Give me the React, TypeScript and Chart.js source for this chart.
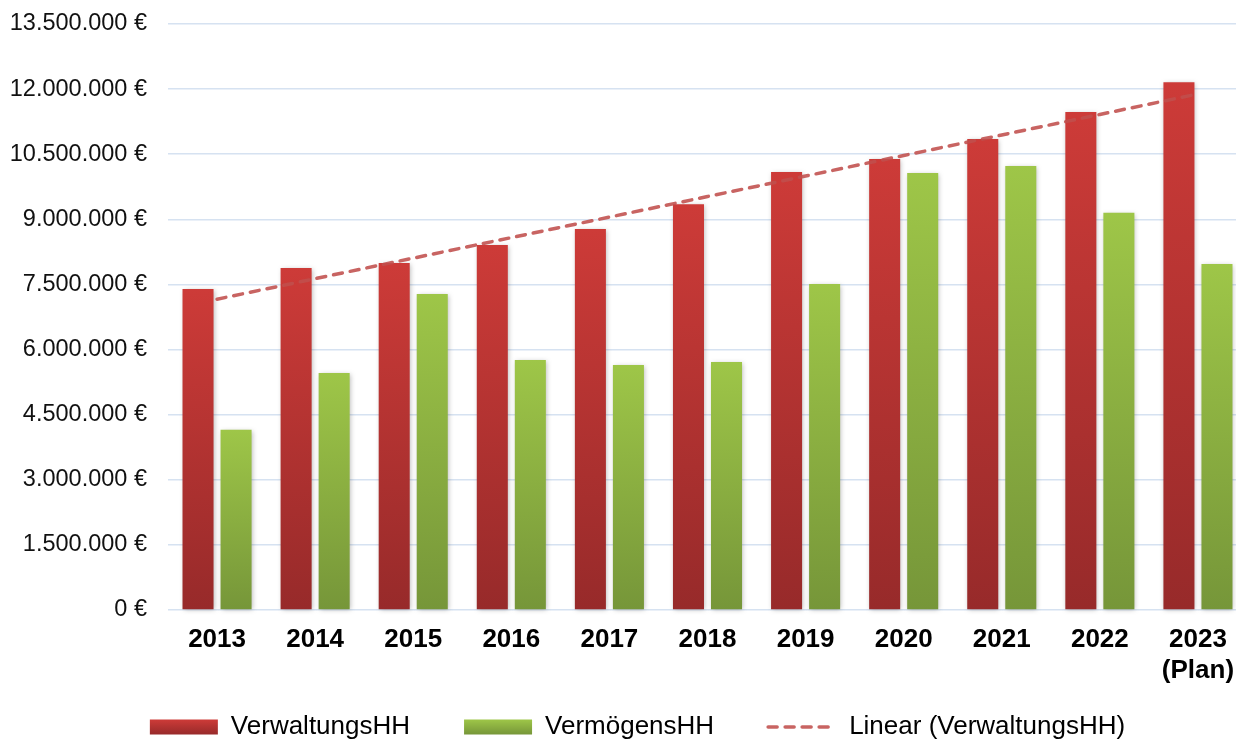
import React, { useEffect, useRef } from 'react';
import { Chart, registerables } from 'chart.js';

Chart.register(...registerables);

// ---------- data ----------
const categories: (string | string[])[] = [
  '2013', '2014', '2015', '2016', '2017', '2018', '2019', '2020', '2021', '2022', ['2023', '(Plan)'],
];
const verwaltungsHH = [
  7395000, 7880000, 7995000, 8410000, 8780000, 9350000, 10090000, 10390000, 10850000, 11470000, 12160000,
];
const vermoegensHH = [
  4150000, 5460000, 7280000, 5760000, 5645000, 5715000, 7510000, 10070000, 10230000, 9150000, 7970000,
];
const seriesLabels = ['VerwaltungsHH', 'VermögensHH', 'Linear (VerwaltungsHH)'];
const yMin = 0;
const yMax = 13500000;
const yStep = 1500000;

// least-squares linear trend of a series (Excel "Linear" trendline)
function linearTrend(values: number[]): number[] {
  const n = values.length;
  const xs = values.map((_, i) => i + 1);
  const mx = xs.reduce((a, b) => a + b, 0) / n;
  const my = values.reduce((a, b) => a + b, 0) / n;
  let sxy = 0;
  let sxx = 0;
  xs.forEach((x, i) => {
    sxy += (x - mx) * (values[i] - my);
    sxx += (x - mx) * (x - mx);
  });
  const slope = sxy / sxx;
  const intercept = my - slope * mx;
  return xs.map((x) => intercept + slope * x);
}

const formatEuro = (v: number) =>
  String(Math.round(v)).replace(/\B(?=(\d{3})+(?!\d))/g, '.') + ' €';

const FONT = "'Liberation Sans', Arial, Helvetica, sans-serif";
const RED_TOP = '#cd3b38';
const RED_BOTTOM = '#972a2a';
const GREEN_TOP = '#9ec648';
const GREEN_BOTTOM = '#769639';
const TREND_COLOR = 'rgba(192, 78, 76, 0.88)';
const GRID_COLOR = '#d6e2f1';
const LEGEND_FONT = 26;
const LEGEND_PAD = 54;
const LEGEND_BOX_H = 15;

export default function App() {
  const canvasRef = useRef<HTMLCanvasElement>(null);

  useEffect(() => {
    const canvas = canvasRef.current;
    if (!canvas) return;

    const barGradient = (top: string, bottom: string) => (c: any) => {
      const chart = c.chart;
      const y = chart.scales && chart.scales.y;
      if (c.type !== 'data' || !chart.chartArea || !y) return top;
      const y0 = y.getPixelForValue(c.raw);
      const y1 = y.getPixelForValue(0);
      if (!isFinite(y0) || !isFinite(y1) || y0 === y1) return top;
      const g = chart.ctx.createLinearGradient(0, y0, 0, y1);
      g.addColorStop(0, top);
      g.addColorStop(1, bottom);
      return g;
    };

    const shadowPlugin = {
      id: 'barShadow',
      beforeDatasetDraw(chart: any, args: any) {
        if (args.meta.type !== 'bar') return;
        const ctx = chart.ctx;
        ctx.save();
        ctx.shadowColor = 'rgba(0,0,0,0.28)';
        ctx.shadowBlur = 5;
        ctx.shadowOffsetX = 1;
        ctx.shadowOffsetY = 1;
      },
      afterDatasetDraw(chart: any, args: any) {
        if (args.meta.type !== 'bar') return;
        chart.ctx.restore();
      },
    };

    // let tick labels overflow their scale boxes (as the original does)
    const noLabelClipPlugin = {
      id: 'noLabelClip',
      beforeDraw(chart: any) {
        Object.values(chart.scales).forEach((s: any) => {
          s._computeLabelArea = () => undefined;
        });
      },
    };

    const legendGradientPlugin = {
      id: 'legendGradient',
      beforeDraw(chart: any) {
        const lg = chart.legend;
        if (!lg || !lg.legendItems) return;
        const cy = lg.top + LEGEND_PAD + LEGEND_FONT / 2;
        const y0 = cy - LEGEND_BOX_H / 2;
        const y1 = cy + LEGEND_BOX_H / 2;
        lg.legendItems.forEach((it: any) => {
          if (it.datasetIndex > 1) return;
          const g = chart.ctx.createLinearGradient(0, y0, 0, y1);
          g.addColorStop(0, it.datasetIndex === 0 ? RED_TOP : GREEN_TOP);
          g.addColorStop(1, it.datasetIndex === 0 ? RED_BOTTOM : GREEN_BOTTOM);
          it.fillStyle = g;
        });
      },
    };

    const chart = new Chart(canvas, {
      type: 'bar',
      data: {
        labels: categories as any,
        datasets: [
          {
            type: 'bar',
            label: seriesLabels[0],
            data: verwaltungsHH,
            backgroundColor: barGradient(RED_TOP, RED_BOTTOM) as any,
            borderWidth: 0,
            categoryPercentage: 0.7755,
            barPercentage: 0.816,
            clip: 6,
            order: 0,
          },
          {
            type: 'bar',
            label: seriesLabels[1],
            data: vermoegensHH,
            backgroundColor: barGradient(GREEN_TOP, GREEN_BOTTOM) as any,
            borderWidth: 0,
            categoryPercentage: 0.7755,
            barPercentage: 0.816,
            clip: 6,
            order: 0,
          },
          {
            type: 'line',
            label: seriesLabels[2],
            data: linearTrend(verwaltungsHH),
            borderColor: TREND_COLOR,
            backgroundColor: TREND_COLOR,
            borderWidth: 3.5,
            borderDash: [9, 8],
            borderCapStyle: 'round',
            pointRadius: 0,
            pointHoverRadius: 0,
            pointStyle: 'line',
            fill: false,
            tension: 0,
            order: -1,
          } as any,
        ],
      },
      options: {
        animation: false,
        responsive: false,
        devicePixelRatio: 1,
        layout: { padding: { left: 28, right: 13, top: 24, bottom: 0 } },
        plugins: {
          tooltip: { enabled: false },
          title: { display: false },
          legend: {
            display: true,
            position: 'bottom',
            maxHeight: 82,
            labels: {
              usePointStyle: true,
              pointStyleWidth: 68,
              boxHeight: LEGEND_BOX_H,
              padding: LEGEND_PAD,
              color: '#000',
              font: { family: FONT, size: LEGEND_FONT },
              sort: (a: any, b: any) => a.datasetIndex - b.datasetIndex,
              generateLabels: (ch: any) => {
                const items = (Chart.defaults.plugins.legend.labels as any).generateLabels(ch);
                return items.map((it: any) => {
                  if (it.datasetIndex === 2) {
                    return {
                      ...it,
                      pointStyle: 'line',
                      strokeStyle: TREND_COLOR,
                      lineWidth: 3.5,
                      lineDash: [9, 8],
                      lineCap: 'round',
                    };
                  }
                  return {
                    ...it,
                    pointStyle: 'rect',
                    fillStyle: it.datasetIndex === 0 ? RED_TOP : GREEN_TOP,
                    lineWidth: 0,
                    strokeStyle: 'rgba(0,0,0,0)',
                  };
                });
              },
            },
          },
        },
        scales: {
          x: {
            grid: { display: false, drawTicks: false },
            border: { display: false },
            ticks: {
              color: '#000',
              padding: 14,
              maxRotation: 0,
              autoSkip: false,
              font: { family: FONT, size: 26, weight: 'bold', lineHeight: 1.2 },
            },
            afterFit: (s: any) => {
              s.height = 50;
            },
          },
          y: {
            min: yMin,
            max: yMax,
            grid: { color: GRID_COLOR, lineWidth: 1.5, drawTicks: false },
            border: { display: false },
            ticks: {
              stepSize: yStep,
              color: '#111',
              padding: 21,
              font: { family: FONT, size: 23.5 },
              callback: (v: any) => formatEuro(Number(v)),
            },
            afterFit: (s: any) => {
              s.width = 140;
              s.paddingTop = 0;
              s.paddingBottom = 0;
            },
          },
        },
      },
      plugins: [shadowPlugin, noLabelClipPlugin, legendGradientPlugin],
    } as any);

    return () => {
      chart.destroy();
    };
  }, []);

  return (
    <div
      style={{
        position: 'absolute',
        left: 0,
        top: 0,
        width: 1236,
        height: 742,
        overflow: 'hidden',
        background: '#fff',
      }}
    >
      <canvas ref={canvasRef} width={1260} height={742} style={{ display: 'block' }} />
    </div>
  );
}
